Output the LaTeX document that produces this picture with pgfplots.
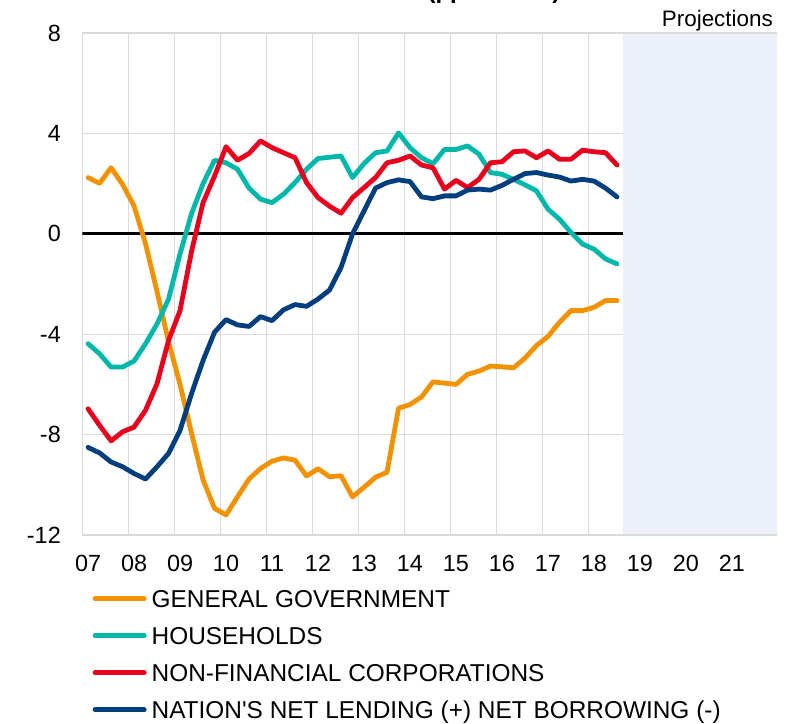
\documentclass[border=0pt]{standalone}
\usepackage{pgfplots}
\pgfplotsset{compat=1.18}
\usepackage{pgfplotstable}
\usepackage{fontspec}
\setmainfont{Liberation Sans}
\newfontfamily\lsans{Liberation Sans}
\definecolor{cgov}{RGB}{243,146,0}
\definecolor{chh}{RGB}{0,184,170}
\definecolor{cnfc}{RGB}{232,0,28}
\definecolor{cnat}{RGB}{0,62,126}
\definecolor{gridgray}{RGB}{218,218,218}
\definecolor{projbg}{RGB}{236,240,248}

\pgfplotstableread{
x gov hh nfc nat
2007.125 2.24 -4.38 -6.97 -8.51
2007.375 2.01 -4.78 -7.63 -8.73
2007.625 2.63 -5.31 -8.25 -9.09
2007.875 1.97 -5.31 -7.89 -9.28
2008.125 1.11 -5.07 -7.70 -9.55
2008.375 -0.40 -4.38 -7.03 -9.77
2008.625 -2.30 -3.59 -5.97 -9.28
2008.875 -4.30 -2.60 -4.25 -8.75
2009.125 -6.00 -0.80 -3.06 -7.83
2009.375 -7.95 0.80 -0.70 -6.37
2009.625 -9.80 2.00 1.24 -5.05
2009.875 -10.94 2.93 2.30 -3.92
2010.125 -11.20 2.83 3.47 -3.42
2010.375 -10.48 2.57 2.93 -3.63
2010.625 -9.77 1.82 3.20 -3.69
2010.875 -9.35 1.38 3.70 -3.30
2011.125 -9.06 1.24 3.43 -3.46
2011.375 -8.93 1.58 3.23 -3.03
2011.625 -9.02 2.04 3.03 -2.82
2011.875 -9.65 2.57 2.04 -2.89
2012.125 -9.36 3.00 1.44 -2.60
2012.375 -9.68 3.05 1.10 -2.24
2012.625 -9.64 3.10 0.82 -1.34
2012.875 -10.48 2.24 1.44 -0.01
2013.125 -10.10 2.80 1.84 0.91
2013.375 -9.70 3.23 2.24 1.82
2013.625 -9.50 3.30 2.83 2.04
2013.875 -6.95 4.02 2.93 2.15
2014.125 -6.80 3.43 3.10 2.08
2014.375 -6.50 3.03 2.74 1.47
2014.625 -5.90 2.79 2.63 1.40
2014.875 -5.95 3.36 1.78 1.51
2015.125 -6.00 3.36 2.13 1.51
2015.375 -5.60 3.50 1.84 1.74
2015.625 -5.47 3.17 2.17 1.78
2015.875 -5.27 2.44 2.83 1.74
2016.125 -5.30 2.37 2.87 1.93
2016.375 -5.34 2.17 3.27 2.17
2016.625 -4.95 1.95 3.30 2.40
2016.875 -4.45 1.71 3.03 2.44
2017.125 -4.09 0.98 3.30 2.34
2017.375 -3.52 0.58 2.97 2.26
2017.625 -3.06 0.05 2.97 2.10
2017.875 -3.06 -0.41 3.33 2.17
2018.125 -2.93 -0.61 3.27 2.10
2018.375 -2.66 -1.00 3.23 1.82
2018.625 -2.66 -1.20 2.74 1.47
}\datatable

\begin{document}
\begin{tikzpicture}
\begin{axis}[
  at={(82.3bp,189bp)}, anchor=south west,
  scale only axis, width=695bp, height=502bp,
  xmin=2007, xmax=2022.11, ymin=-12, ymax=8,
  xtick={2007,...,2021},
  xticklabels={07,08,09,10,11,12,13,14,15,16,17,18,19,20,21},
  ytick={-12,-8,-4,0,4,8},
  yticklabels={-12,-8,-4,0,4,8},
  major tick length=0pt,
  grid=major,
  major grid style={draw=gridgray, line width=1.3bp},
  axis line style={draw=none},
  tick label style={font=\fontsize{23.5}{28}\selectfont},
  xticklabel style={xshift=5.75bp, yshift=-17bp},
  yticklabel style={xshift=-18bp},
  legend cell align=left,
  legend style={at={(axis description cs:0.0149,-0.1096)}, anchor=north west,
    draw=none, fill=none, inner sep=0pt, outer sep=0pt,
    row sep=19.5bp, column sep=5bp,
    font=\fontsize{24.5}{29}\selectfont,
    nodes={inner sep=0pt, text height=17.5bp, text depth=0pt}},
  legend image code/.code={\draw[#1] (2.4bp,0bp) -- (51.6bp,0bp);},
  every axis plot/.append style={line width=4.8bp, line cap=round, line join=round},
]
\addplot[draw=none, fill=projbg, forget plot, line width=0pt] coordinates {(2018.75,-11.97) (2022.11,-11.97) (2022.11,7.97) (2018.75,7.97)} -- cycle;
\addplot[black, line width=3bp, line cap=butt, forget plot] coordinates {(2007,0) (2018.75,0)};
\addplot[cgov] table[x=x, y=gov] {\datatable};
\addlegendentry{GENERAL GOVERNMENT}
\addplot[chh] table[x=x, y=hh] {\datatable};
\addlegendentry{HOUSEHOLDS}
\addplot[cnfc] table[x=x, y=nfc] {\datatable};
\addlegendentry{NON-FINANCIAL CORPORATIONS}
\addplot[cnat] table[x=x, y=nat] {\datatable};
\addlegendentry{{\lsans NATION'S} NET LENDING (+) NET BORROWING (-)}
\end{axis}
\node[anchor=base east, font=\fontsize{22.5}{27}\selectfont, inner sep=0pt] at (773bp,697.3bp) {Projections};
\node[anchor=base, font=\bfseries\fontsize{24}{28}\selectfont, inner sep=0pt] at (494bp,725bp) {(pp of GDP)};
\pgfresetboundingbox
\path[use as bounding box] (0bp,0bp) rectangle (786bp,724bp);
\end{tikzpicture}
\end{document}
